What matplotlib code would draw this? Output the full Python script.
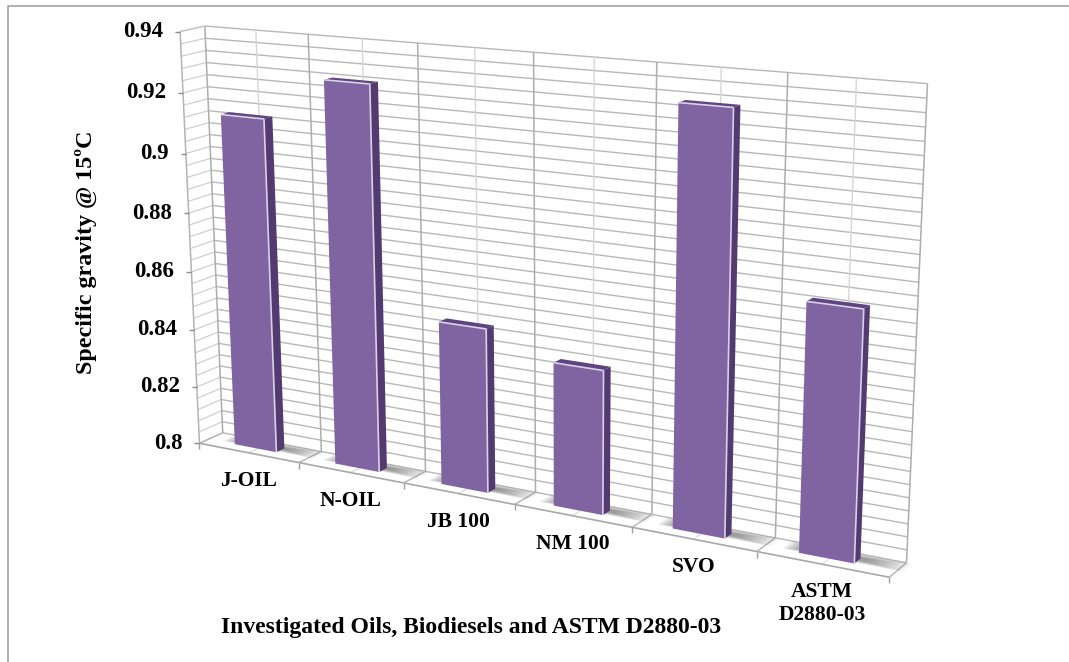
import numpy as np
import matplotlib
matplotlib.use('Agg')
import matplotlib.pyplot as plt
from matplotlib.patches import Polygon

categories = ['J-OIL', 'N-OIL', 'JB 100', 'NM 100', 'SVO', 'ASTM\nD2880-03']
values = [0.913, 0.9275, 0.854, 0.8465, 0.9303, 0.8765]
major_ticks = [0.8, 0.82, 0.84, 0.86, 0.88, 0.9, 0.92, 0.94]
tick_labels = ['0.8', '0.82', '0.84', '0.86', '0.88', '0.9', '0.92', '0.94']
y_min = 0.8
y_max = 0.94
minor_step = 0.004
xlabel = 'Investigated Oils, Biodiesels and ASTM D2880-03'
ylabel = 'Specific gravity @ 15ºC'

# the chart box corners: (category, height 0-1, depth 0-1) -> pixel
calib_box = [(0, 0, 1), (1, 0, 1), (3, 0, 1), (4, 0, 1), (6, 0, 1),
             (0, 1, 1), (1, 1, 1), (2, 1, 1), (5, 1, 1), (6, 1, 1),
             (0, 0, 0), (1, 0, 0), (2, 0, 0), (3, 0, 0), (4, 0, 0), (5, 0, 0), (6, 0, 0),
             (0, 1, 0)]
calib_px = [(223, 433), (320, 452), (536, 493), (652, 513), (907, 562),
            (205, 26), (308, 34), (418, 44), (787, 72), (928, 84),
            (200, 443), (299, 462), (404, 483), (514, 505), (632, 527), (757, 553), (889, 577),
            (180, 31)]


def fit_camera(box, px):
    rows = []
    for (X, Y, Z), (x, y) in zip(box, px):
        rows.append([X, Y, Z, 1, 0, 0, 0, 0, -x * X, -x * Y, -x * Z, -x])
        rows.append([0, 0, 0, 0, X, Y, Z, 1, -y * X, -y * Y, -y * Z, -y])
    _, _, vt = np.linalg.svd(np.array(rows, dtype=float))
    return vt[-1].reshape(3, 4)


P = fit_camera(calib_box, calib_px)


def project(u, val, w):
    h = (val - y_min) / (y_max - y_min)
    p = P @ np.array([u, h, w, 1.0])
    return p[0] / p[2], p[1] / p[2]


fig = plt.figure(figsize=(10.69, 6.62), dpi=100)
ax = fig.add_axes([0, 0, 1, 1])
ax.set_xlim(0, 1069)
ax.set_ylim(662, 0)
ax.axis('off')
plt.rcParams['font.family'] = ['Liberation Serif', 'DejaVu Serif']


def seg(a, b, color, lw=1.0, z=1):
    ax.plot([a[0], b[0]], [a[1], b[1]], color=color, lw=lw, zorder=z, solid_capstyle='butt')


def face(pts, color, z=5, alpha=1.0):
    ax.add_patch(Polygon(pts, closed=True, fc=color, ec='none', alpha=alpha, zorder=z))


# outer frame
ax.plot([7.5, 7.5, 1069], [662, 5.5, 5.5], color='#9a9a9a', lw=1.1, zorder=1)

n = len(categories)
steps = int(round((y_max - y_min) / minor_step))
for i in range(steps + 1):
    v = y_min + i * minor_step
    seg(project(0, v, 1), project(n, v, 1), '#b8b8b8', 1.0)
    seg(project(0, v, 0), project(0, v, 1), '#cfcfcf', 0.9)

# category walls and floor
for i in range(n + 1):
    seg(project(i, y_min, 1), project(i, y_max, 1), '#adadad', 1.1, 2)
    seg(project(i, y_min, 0), project(i, y_min, 1), '#b4b4b4', 1.0, 2)
    fx, fy = project(i, y_min, 0)
    seg((fx, fy), (fx, fy + 6), '#a0a0a0', 1.0, 2)
for i in range(n):
    seg(project(i + 0.5, y_min, 1), project(i + 0.5, y_max, 1), '#d6d6d6', 1.0, 2)
    seg(project(i + 0.5, y_min, 0), project(i + 0.5, y_min, 1), '#dddddd', 0.9, 2)
seg(project(0, y_min, 0), project(n, y_min, 0), '#a8a8a8', 1.2, 3)
seg(project(0, y_min, 0), project(0, y_max, 0), '#b4b4b4', 1.1, 2)
seg(project(0, y_max, 0), project(0, y_max, 1), '#c4c4c4', 1.0, 2)

# bars
bar_u = 0.27
bar_wid = 0.42
bar_w0 = 0.39
bar_w1 = 0.74
for i, val in enumerate(values):
    u0 = i + bar_u
    u1 = u0 + bar_wid

    # soft floor shadow, stacked so it fades outwards
    for s in np.linspace(0, 1, 14):
        a = u0 - 0.14 * (1 - s)
        b = u1 + 0.05 + 0.3 * (1 - s)
        c = bar_w0 + 0.06 + 0.18 * s
        d = bar_w1 + 0.26 - 0.2 * s
        face([project(a, y_min, c), project(b, y_min, c),
              project(b, y_min, d), project(a, y_min, d)], '#5a5a5a', 4, 0.06)

    fbl = project(u0, y_min, bar_w0)
    fbr = project(u1, y_min, bar_w0)
    ftl = project(u0, val, bar_w0)
    ftr = project(u1, val, bar_w0)
    bbr = project(u1, y_min, bar_w1)
    btr = project(u1, val, bar_w1)
    btl = project(u0, val, bar_w1)
    face([fbr, bbr, btr, ftr], '#533a70', 5)
    face([ftl, ftr, btr, btl], '#5f4482', 5)
    face([fbl, fbr, ftr, ftl], '#8064a2', 6)
    seg(ftl, ftr, '#d9d2e5', 1.2, 7)
    seg(ftr, fbr, '#d9d2e5', 1.2, 7)

# y axis labels
for v, lab in zip(major_ticks, tick_labels):
    fx, fy = project(0, v, 0)
    seg((fx - 5, fy), (fx, fy), '#8c8c8c', 1.0, 3)
    ax.text(fx - 17, fy, lab, ha='right', va='center', fontsize=16.5, fontweight='bold', color='black')

# category labels
for i, lab in enumerate(categories):
    fx, fy = project(i + 0.5, y_min, 0)
    ax.text(fx, fy + 18, lab, ha='center', va='top', fontsize=15.5, fontweight='bold',
            color='black', linespacing=1.2)

ax.text(471, 627, xlabel, ha='center', va='center', fontsize=17, fontweight='bold', color='black')
ax.text(86, 252, ylabel, ha='center', va='center', rotation=90, fontsize=17.3, fontweight='bold', color='black')

fig.savefig('out.png', dpi=100, facecolor='white')
